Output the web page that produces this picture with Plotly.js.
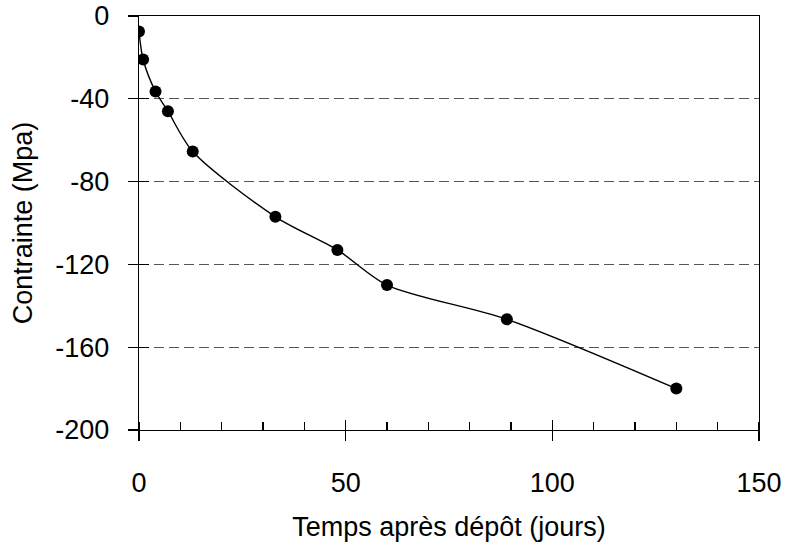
<!DOCTYPE html>
<html>
<head>
<meta charset="utf-8">
<script src="https://cdn.plot.ly/plotly-3.0.1.min.js"></script>
<style>html,body{margin:0;padding:0;background:#fff;}#chart{width:786px;height:546px;}</style>
</head>
<body>
<div id="chart"></div>
<script>
// Data
const tempsJours = [0, 1, 4, 7, 13, 33, 48, 60, 89, 130];
const contrainteMPa = [-7.5, -21, -36.5, -46, -65.5, -97, -113, -130, -146.5, -180];
const xTickVals = [0, 50, 100, 150];
const yTickVals = [0, -40, -80, -120, -160, -200];
const xTitle = "Temps après dépôt (jours)";
const yTitle = "Contrainte (Mpa)";

const FONT = "'Liberation Sans', Arial, sans-serif";

const traces = [
  {
    x: tempsJours, y: contrainteMPa,
    type: 'scatter', mode: 'lines+markers',
    line: {color: '#000', width: 1.4, shape: 'spline', smoothing: 0.8},
    marker: {color: '#000', size: 12},
    hoverinfo: 'x+y', showlegend: false
  },
  {
    x: tempsJours, y: contrainteMPa,
    xaxis: 'x2', yaxis: 'y2',
    type: 'scatter', mode: 'markers',
    marker: {opacity: 0, size: 1},
    hoverinfo: 'skip', showlegend: false
  }
];

const layout = {
  width: 786, height: 546,
  margin: {l: 139, r: 27, t: 16, b: 116, pad: 0},
  paper_bgcolor: '#fff', plot_bgcolor: '#fff',
  font: {family: FONT, size: 27, color: '#000'},
  showlegend: false,
  xaxis: {
    range: [0, 150], tickvals: xTickVals, ticktext: xTickVals.map(String),
    ticks: 'outside', ticklen: 10, tickwidth: 1.3, tickcolor: '#000',
    showline: true, linecolor: '#000', linewidth: 1.3, mirror: true,
    showgrid: false, zeroline: false,
    tickfont: {family: FONT, size: 27, color: '#000'},
    ticklabelstandoff: 18,
    minor: {dtick: 10, tick0: 0, ticks: 'inside', ticklen: 8, tickwidth: 1.2, tickcolor: '#000', showgrid: false},
    title: {text: xTitle, font: {family: FONT, size: 27, color: '#000'}, standoff: 20},
    automargin: false
  },
  yaxis: {
    range: [-200, 0], tickvals: yTickVals, ticktext: yTickVals.map(String),
    ticks: 'outside', ticklen: 10, tickwidth: 1.3, tickcolor: '#000',
    showline: true, linecolor: '#000', linewidth: 1.3, mirror: true,
    showgrid: true, gridcolor: '#555', gridwidth: 1, griddash: '10px,5px',
    zeroline: false,
    tickfont: {family: FONT, size: 27, color: '#000'},
    ticklabelstandoff: 13,
    title: {text: yTitle, font: {family: FONT, size: 27, color: '#000'}, standoff: 14},
    automargin: false
  },
  xaxis2: {
    overlaying: 'x', anchor: 'y2', side: 'bottom', range: [0, 150],
    tickvals: xTickVals, ticks: 'inside', ticklen: 10, tickwidth: 1.3, tickcolor: '#000',
    showticklabels: false, showgrid: false, zeroline: false, showline: false
  },
  yaxis2: {
    overlaying: 'y', anchor: 'x2', side: 'left', range: [-200, 0],
    tickvals: yTickVals, ticks: 'inside', ticklen: 10, tickwidth: 1.3, tickcolor: '#000',
    showticklabels: false, showgrid: false, zeroline: false, showline: false
  }
};

Plotly.newPlot('chart', traces, layout, {displayModeBar: false, staticPlot: true});
</script>
</body>
</html>
